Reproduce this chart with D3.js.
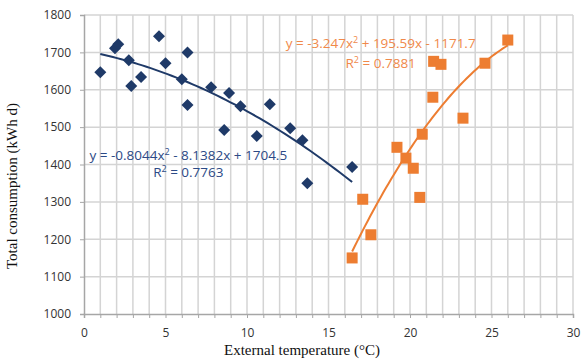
<!DOCTYPE html>
<html>
<head>
<meta charset="utf-8">
<script src="https://cdn.jsdelivr.net/npm/d3@7"></script>
<style>
  body { margin: 0; background: #fff; }
</style>
</head>
<body>
<div id="chart"></div>
<script>
// Blue series (diamonds)
const winterTemp = [1.0, 1.9, 2.1, 2.75, 2.9, 3.5, 4.6, 5.0, 6.0, 6.35, 6.35, 7.8, 8.6, 8.9, 9.6, 10.6, 11.4, 12.65, 13.4, 13.7, 16.45];
const winterCons = [1647, 1711, 1722, 1679, 1610, 1634, 1743, 1671, 1628, 1700, 1559, 1607, 1492, 1591, 1556, 1476, 1561, 1497, 1465, 1350, 1393];

// Orange series (squares)
const summerTemp = [16.45, 17.1, 17.6, 19.2, 19.75, 20.2, 20.6, 20.75, 21.4, 21.45, 21.9, 23.25, 24.6, 26.0];
const summerCons = [1150, 1307, 1212, 1446, 1417, 1390, 1312, 1481, 1580, 1676, 1668, 1524, 1671, 1733];

// Polynomial trendlines as printed on the chart
const winterFit = [-0.8044, -8.1382, 1704.5];
const summerFit = [-3.247, 195.59, -1171.7];

const xTicks = [0, 5, 10, 15, 20, 25, 30];
const yTicks = [1000, 1100, 1200, 1300, 1400, 1500, 1600, 1700, 1800];

const width = 588, height = 360;
const margin = { top: 15, right: 15, bottom: 46, left: 84 };
const chartWidth = width - margin.left - margin.right;
const chartHeight = height - margin.top - margin.bottom;

const svg = d3.select("#chart").append("svg")
  .attr("width", width)
  .attr("height", height);

const g = svg.append("g").attr("transform", `translate(${margin.left},${margin.top})`);

const x = d3.scaleLinear().domain([0, 30]).range([0, chartWidth]);
const y = d3.scaleLinear().domain([1000, 1800]).range([chartHeight, 0]);

const gridColor = "#d4d4d4";

// vertical gridlines, one per degree
g.append("g")
  .selectAll("line")
  .data(d3.range(1, 31))
  .join("line")
  .attr("x1", d => x(d)).attr("x2", d => x(d))
  .attr("y1", 0).attr("y2", chartHeight)
  .attr("stroke", gridColor)
  .attr("stroke-width", 1.5);

// horizontal gridlines
g.append("g")
  .selectAll("line")
  .data(yTicks.slice(1))
  .join("line")
  .attr("x1", 0).attr("x2", chartWidth)
  .attr("y1", d => y(d)).attr("y2", d => y(d))
  .attr("stroke", gridColor)
  .attr("stroke-width", 1.5);

// Axes
const xAxis = g.append("g")
  .attr("transform", `translate(0,${chartHeight})`)
  .call(d3.axisBottom(x).tickValues(d3.range(0, 31)).tickSize(4)
    .tickFormat(d => xTicks.includes(d) ? d : ""));

const yAxis = g.append("g")
  .call(d3.axisLeft(y).tickValues(yTicks).tickSize(4).tickFormat(d3.format("d")));

[xAxis, yAxis].forEach(a => {
  a.select(".domain").attr("stroke", "#a6a6a6").attr("stroke-width", 1.5);
  a.selectAll(".tick line").attr("stroke", "#a6a6a6");
  a.selectAll("text")
    .attr("fill", "#333")
    .style("font-family", "'Open Sans', 'Liberation Sans', sans-serif")
    .style("font-size", "12px");
});
xAxis.selectAll("text").attr("dy", "1.3em");
yAxis.selectAll("text").attr("dx", "-0.5em");

// Trendlines
function curve(coef, from, to) {
  const pts = d3.range(0, 61).map(i => from + (to - from) * i / 60);
  return pts.map(t => [t, coef[0] * t * t + coef[1] * t + coef[2]]);
}

const line = d3.line().x(d => x(d[0])).y(d => y(d[1]));

const blue = "#1f3a68";
const orange = "#ed7d31";

g.append("path")
  .datum(curve(winterFit, d3.min(winterTemp), d3.max(winterTemp)))
  .attr("d", line)
  .attr("fill", "none")
  .attr("stroke", blue)
  .attr("stroke-width", 2);

g.append("path")
  .datum(curve(summerFit, d3.min(summerTemp), d3.max(summerTemp)))
  .attr("d", line)
  .attr("fill", "none")
  .attr("stroke", orange)
  .attr("stroke-width", 2);

// Points
const winterData = winterTemp.map((t, i) => [t, winterCons[i]]);
const summerData = summerTemp.map((t, i) => [t, summerCons[i]]);

g.append("g")
  .selectAll("path")
  .data(winterData)
  .join("path")
  .attr("transform", d => `translate(${x(d[0])},${y(d[1])})`)
  .attr("d", "M0,-6L6,0L0,6L-6,0Z")
  .attr("fill", blue);

g.append("g")
  .selectAll("rect")
  .data(summerData)
  .join("rect")
  .attr("x", d => x(d[0]) - 5.5)
  .attr("y", d => y(d[1]) - 5.5)
  .attr("width", 11)
  .attr("height", 11)
  .attr("fill", orange);

// Equation labels
const eqFont = "'Open Sans', 'Liberation Sans', sans-serif";

function eqLabel(tx, ty, color, html) {
  g.append("text")
    .attr("x", x(tx)).attr("y", y(ty))
    .attr("text-anchor", "middle")
    .attr("fill", color)
    .style("font-family", eqFont).style("font-size", "13.5px")
    .html(html);
}

eqLabel(6.4, 1412, "#2c4a86",
  "y = -0.8044x<tspan dy='-5' font-size='9'>2</tspan><tspan dy='5'> - 8.1382x + 1704.5</tspan>");
eqLabel(6.4, 1366, "#2c4a86",
  "R<tspan dy='-5' font-size='9'>2</tspan><tspan dy='5'> = 0.7763</tspan>");
eqLabel(18.2, 1711, "#f0894a",
  "y = -3.247x<tspan dy='-5' font-size='9'>2</tspan><tspan dy='5'> + 195.59x - 1171.7</tspan>");
eqLabel(18.2, 1658, "#f0894a",
  "R<tspan dy='-5' font-size='9'>2</tspan><tspan dy='5'> = 0.7881</tspan>");

// Axis titles
svg.append("text")
  .attr("x", 302)
  .attr("y", height - 5)
  .attr("text-anchor", "middle")
  .attr("fill", "#111")
  .style("font-family", "'Liberation Serif', serif")
  .style("font-size", "15px")
  .text("External temperature (°C)");

svg.append("text")
  .attr("transform", `translate(17,186) rotate(-90)`)
  .attr("text-anchor", "middle")
  .attr("fill", "#111")
  .style("font-family", "'Liberation Serif', serif")
  .style("font-size", "15px")
  .text("Total consumption  (kWh d)");
</script>
</body>
</html>
